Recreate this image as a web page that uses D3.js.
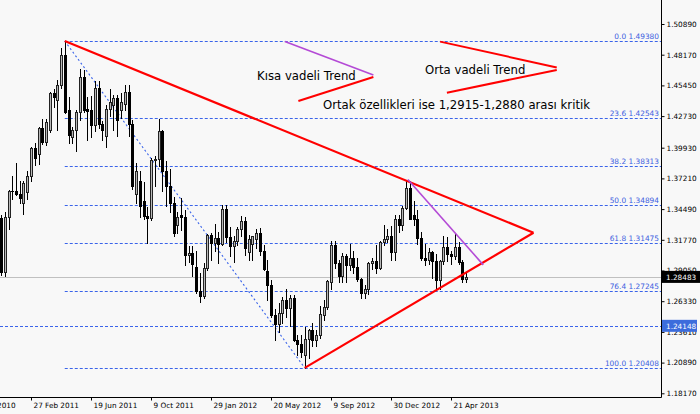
<!DOCTYPE html>
<html><head><meta charset="utf-8">
<script src="https://cdn.jsdelivr.net/npm/d3@7/dist/d3.min.js"></script>
<style>body{margin:0;background:#f8f8f8;}svg{display:block;}</style>
</head><body>
<svg id="chart" width="700" height="414"></svg>
<script>
// Weekly bars, first bar = week of 2 Jan 2011
const open  = [1.3366,1.2895,1.3380,1.3610,1.3605,1.3580,1.3505,1.3600,1.3740,1.3990,1.3940,1.4170,1.4045,1.4150,1.4475,1.4420,1.4545,1.4810,1.4330,1.4085,1.4150,1.4310,1.4620,1.4335,1.4330,1.4190,1.4520,1.4200,1.4100,1.4340,1.4370,1.4430,1.4330,1.4380,1.4490,1.4200,1.3580,1.3700,1.3520,1.3390,1.3370,1.3880,1.3890,1.4145,1.3790,1.3650,1.3500,1.3310,1.3400,1.3380,1.3040,1.3060,1.2940,1.2720,1.2680,1.2930,1.3220,1.3150,1.3195,1.3140,1.3450,1.3200,1.3120,1.3170,1.3270,1.3340,1.3070,1.3140,1.3180,1.3240,1.3080,1.2900,1.2780,1.2510,1.2430,1.2530,1.2640,1.2570,1.2660,1.2290,1.2250,1.2160,1.2300,1.2380,1.2290,1.2330,1.2510,1.2580,1.2800,1.3130,1.2970,1.2860,1.3030,1.2950,1.3020,1.2940,1.2830,1.2710,1.2740,1.2970,1.2990,1.2930,1.3160,1.3180,1.3210,1.3070,1.3360,1.3310,1.3460,1.3640,1.3400,1.3360,1.3190,1.3020,1.3000,1.3070,1.2990,1.2820,1.2990,1.3110,1.3050,1.3030,1.3110,1.2980,1.2830];
const high  = [1.3400,1.3420,1.3620,1.3745,1.3860,1.3700,1.3700,1.3790,1.4000,1.4035,1.4180,1.4250,1.4245,1.4490,1.4510,1.4590,1.4880,1.4938,1.4440,1.4180,1.4330,1.4690,1.4680,1.4445,1.4450,1.4580,1.4580,1.4230,1.4370,1.4510,1.4460,1.4460,1.4480,1.4550,1.4550,1.4240,1.3860,1.3790,1.3690,1.3470,1.3900,1.3920,1.4250,1.4150,1.3875,1.3800,1.3560,1.3420,1.3550,1.3440,1.3120,1.3120,1.3080,1.2880,1.2970,1.3230,1.3240,1.3320,1.3250,1.3485,1.3486,1.3290,1.3210,1.3290,1.3385,1.3380,1.3220,1.3210,1.3270,1.3280,1.3130,1.3000,1.2820,1.2560,1.2620,1.2670,1.2745,1.2690,1.2690,1.2330,1.2330,1.2400,1.2390,1.2440,1.2380,1.2590,1.2640,1.2820,1.3170,1.3170,1.3000,1.3060,1.3050,1.3140,1.3080,1.3020,1.2840,1.2780,1.2980,1.3020,1.3130,1.3170,1.3310,1.3270,1.3300,1.3400,1.3400,1.3480,1.3711,1.3700,1.3520,1.3440,1.3250,1.3140,1.3100,1.3080,1.3050,1.3000,1.3210,1.3200,1.3080,1.3240,1.3160,1.3000,1.2880];
const low   = [1.2865,1.2860,1.3275,1.3540,1.3570,1.3500,1.3410,1.3540,1.3700,1.3840,1.3850,1.4030,1.4020,1.4130,1.4350,1.4150,1.4520,1.4300,1.4035,1.4035,1.3967,1.4240,1.4310,1.4060,1.4090,1.4140,1.4170,1.4060,1.4000,1.4270,1.4150,1.4100,1.4260,1.4330,1.4100,1.3630,1.3500,1.3380,1.3360,1.3145,1.3350,1.3650,1.3830,1.3610,1.3480,1.3420,1.3210,1.3240,1.3260,1.2950,1.2980,1.2860,1.2710,1.2624,1.2660,1.2910,1.3000,1.3080,1.2975,1.3130,1.3160,1.3030,1.2980,1.3130,1.3210,1.3040,1.3000,1.3000,1.3100,1.3040,1.2910,1.2640,1.2490,1.2290,1.2360,1.2440,1.2490,1.2410,1.2280,1.2160,1.2140,1.2042,1.2130,1.2240,1.2240,1.2310,1.2470,1.2560,1.2740,1.2930,1.2800,1.2800,1.2800,1.2910,1.2880,1.2810,1.2660,1.2660,1.2700,1.2920,1.2880,1.2920,1.3130,1.3160,1.3000,1.3000,1.3250,1.3260,1.3450,1.3360,1.3310,1.3140,1.3000,1.2955,1.2960,1.2840,1.2750,1.2745,1.2960,1.2990,1.2960,1.3010,1.2960,1.2800,1.2800];
const close = [1.2895,1.3380,1.3610,1.3605,1.3580,1.3545,1.3680,1.3740,1.3990,1.3900,1.4165,1.4040,1.4225,1.4475,1.4440,1.4545,1.4810,1.4310,1.4105,1.4150,1.4310,1.4620,1.4330,1.4320,1.4190,1.4520,1.4200,1.4150,1.4340,1.4400,1.4430,1.4240,1.4400,1.4490,1.4200,1.3650,1.3790,1.3480,1.3390,1.3370,1.3880,1.3890,1.4145,1.3790,1.3650,1.3500,1.3240,1.3380,1.3380,1.3040,1.3060,1.2960,1.2720,1.2680,1.2930,1.3220,1.3150,1.3195,1.3140,1.3450,1.3200,1.3120,1.3170,1.3270,1.3340,1.3100,1.3180,1.3210,1.3240,1.3080,1.2920,1.2780,1.2510,1.2430,1.2530,1.2640,1.2570,1.2660,1.2290,1.2250,1.2180,1.2300,1.2380,1.2290,1.2330,1.2520,1.2580,1.2810,1.3130,1.2970,1.2860,1.3030,1.2950,1.3020,1.2940,1.2830,1.2710,1.2740,1.2970,1.2990,1.2930,1.3160,1.3180,1.3210,1.3070,1.3360,1.3310,1.3460,1.3640,1.3365,1.3360,1.3190,1.3020,1.3000,1.3070,1.2990,1.2820,1.2990,1.3110,1.3050,1.3030,1.3110,1.2980,1.2830,1.2848];

const dateLabels = ["7 Nov 2010","27 Feb 2011","19 Jun 2011","9 Oct 2011","29 Jan 2012","20 May 2012","9 Sep 2012","30 Dec 2012","21 Apr 2013"];
const dateBars   = [-8, 8, 24, 40, 56, 72, 88, 104, 120];
const priceTicks = [1.50890,1.48170,1.45450,1.42730,1.39930,1.37210,1.34490,1.31770,1.29050,1.26330,1.23610,1.20890,1.18170];

const fibPct  = ["0.0","23.6","38.2","50.0","61.8","76.4","100.0"];
const fibVal  = [1.49380,1.42543,1.38313,1.34894,1.31475,1.27245,1.20408];
const fibStartBar = 17;

const lastPrice  = 1.28483;
const levelPrice = 1.24148;

// trend lines as [bar index, price]
const upperTrend  = [[17,1.4938],[142,1.3240]];
const lowerTrend  = [[81,1.2042],[142,1.3240]];
const fibDiagonal = [[17,1.4938],[81,1.2042]];
const shortTrend  = [[108.5,1.3712],[128.6,1.2955]];
// annotation arrows
const noteShortA = [[75.7,1.4933],[99.3,1.4637]];
const noteShortB = [[99.3,1.4620],[79.3,1.4407]];
const noteMidA   = [[117.1,1.4933],[148.2,1.4704]];
const noteMidB   = [[148.2,1.4682],[118.9,1.4480]];

const notes = ["Kısa vadeli Trend","Orta vadeli Trend","Ortak özellikleri ise 1,2915-1,2880 arası kritik"];

const svg = d3.select("#chart");
const W = 700, H = 414, plotR = 661, plotB = 397;
const x = d3.scaleLinear().domain([0,176]).range([1,661]);
const y = d3.scaleLinear().domain([1.18170,1.50890]).range([393.3,24]);

svg.append("rect").attr("width",W).attr("height",H).attr("fill","#f8f8f8");
svg.append("defs").append("clipPath").attr("id","plot").append("rect")
  .attr("x",0).attr("y",0).attr("width",plotR).attr("height",plotB);
const g = svg.append("g").attr("clip-path","url(#plot)");

// fibonacci levels
fibVal.forEach((v,i)=>{
  const yy = Math.round(y(v))+0.5;
  g.append("line").attr("x1",x(fibStartBar)).attr("x2",plotR).attr("y1",yy).attr("y2",yy)
    .attr("stroke","#3a64ea").attr("stroke-width",1).attr("stroke-dasharray","3,2");
  g.append("text").attr("x",659).attr("y",yy-2.5).attr("text-anchor","end")
    .attr("font-family","DejaVu Sans").attr("font-size",7.4).attr("fill","#3d5fe0")
    .text(fibPct[i]+" "+d3.format(".5f")(v));
});
// horizontal level line
{
  const yy = Math.round(y(levelPrice))+0.5;
  g.append("line").attr("x1",0).attr("x2",plotR).attr("y1",yy).attr("y2",yy)
    .attr("stroke","#3a64ea").attr("stroke-dasharray","3,2");
  const yl = Math.round(y(lastPrice))+0.5;
  g.append("line").attr("x1",0).attr("x2",plotR).attr("y1",yl).attr("y2",yl)
    .attr("stroke","#c0c0c0");
}

const line = d3.line().x(d=>x(d[0])).y(d=>y(d[1]));
g.append("path").attr("d",line(fibDiagonal)).attr("fill","none").attr("stroke","#3a64ea")
  .attr("stroke-width",1.1).attr("stroke-dasharray","2,2.5");

// candles
const bars = open.map((o,i)=>({i,o,h:high[i],l:low[i],c:close[i]}));
const cg = g.append("g");
bars.forEach(b=>{
  const cx = Math.round(x(b.i));
  cg.append("line").attr("x1",cx+0.5).attr("x2",cx+0.5)
    .attr("y1",Math.round(y(b.h))).attr("y2",Math.round(y(b.l))+1)
    .attr("stroke","#000").attr("stroke-width",1);
  const y1 = Math.round(y(Math.max(b.o,b.c))), y2 = Math.round(y(Math.min(b.o,b.c)));
  if (b.c >= b.o) {
    cg.append("rect").attr("x",cx-0.5).attr("y",y1+0.5).attr("width",2).attr("height",Math.max(1,y2-y1))
      .attr("fill","#b8b8b8").attr("stroke","#222").attr("stroke-width",1);
  } else {
    cg.append("rect").attr("x",cx-1).attr("y",y1).attr("width",3).attr("height",Math.max(1,y2-y1+1))
      .attr("fill","#000");
  }
});

// trend lines
[upperTrend,lowerTrend].forEach(t=>g.append("path").attr("d",line(t)).attr("fill","none")
  .attr("stroke","#ff0000").attr("stroke-width",2.2));
g.append("path").attr("d",line(shortTrend)).attr("fill","none").attr("stroke","#b44ad6").attr("stroke-width",1.6);
g.append("path").attr("d",line(noteShortA)).attr("fill","none").attr("stroke","#b44ad6").attr("stroke-width",1.6);
[noteShortB,noteMidA,noteMidB].forEach(t=>g.append("path").attr("d",line(t)).attr("fill","none")
  .attr("stroke","#ff0000").attr("stroke-width",2));

// annotation texts
const tf = "DejaVu Sans", ts = 11.7;
svg.append("text").attr("x",257).attr("y",80).attr("font-family",tf).attr("font-size",ts).attr("fill","#000").text(notes[0]);
svg.append("text").attr("x",425).attr("y",74).attr("font-family",tf).attr("font-size",ts).attr("fill","#000").text(notes[1]);
svg.append("text").attr("x",323).attr("y",108.5).attr("font-family",tf).attr("font-size",ts).attr("fill","#000").text(notes[2]);

// frame
svg.append("line").attr("x1",plotR+0.5).attr("x2",plotR+0.5).attr("y1",0).attr("y2",plotB+0.5).attr("stroke","#000");
svg.append("line").attr("x1",0).attr("x2",plotR+0.5).attr("y1",plotB+0.5).attr("y2",plotB+0.5).attr("stroke","#000");

// right axis
const ya = svg.append("g").attr("transform",`translate(${plotR+0.5},0)`)
  .call(d3.axisRight(y).tickValues(priceTicks).tickSize(3).tickPadding(2).tickFormat(d3.format(".5f")));
ya.select(".domain").remove();
ya.selectAll("text").attr("font-family","DejaVu Sans").attr("font-size",7.3).attr("fill","#000");
ya.selectAll("line").attr("stroke","#000");

// bottom axis
const xa = svg.append("g").attr("transform",`translate(0,${plotB+0.5})`)
  .call(d3.axisBottom(x).tickValues(dateBars).tickSize(3).tickFormat((d,i)=>dateLabels[i]));
xa.select(".domain").remove();
xa.selectAll("text").attr("font-family","DejaVu Sans").attr("font-size",7.3).attr("fill","#000")
  .attr("text-anchor","start").attr("dx",2).attr("y",5);
xa.selectAll("line").attr("stroke","#000");

// price boxes
function priceBox(v, bg, w){
  const yy = y(v);
  svg.append("rect").attr("x",plotR+1).attr("y",yy-6).attr("width",w).attr("height",12).attr("fill",bg);
  svg.append("text").attr("x",plotR+5).attr("y",yy+3).attr("font-family","DejaVu Sans").attr("font-size",7.3)
    .attr("fill","#fff").text(d3.format(".5f")(v));
}
priceBox(lastPrice,"#000",39);
priceBox(levelPrice,"#3c6cdc",35);
</script>
</body></html>
